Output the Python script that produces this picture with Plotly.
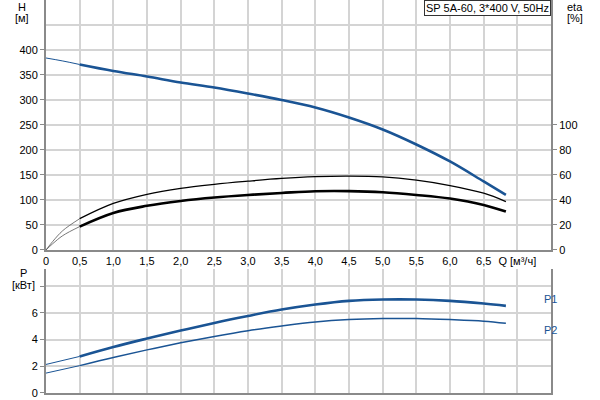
import plotly.graph_objects as go

# ---- data ----
Q = [0.5, 1.0, 1.5, 2.0, 2.5, 3.0, 3.5, 4.0, 4.5, 5.0, 5.5, 6.0, 6.5, 6.83]
H = [371, 358, 347, 335, 325, 313, 300, 285, 265, 241, 211, 177, 137, 110]
Q_ext_H = [0, 0.25, 0.5]
H_ext = [384, 378, 371]

ETA1 = [25, 37.2, 44.5, 49.3, 52.5, 55, 57.2, 58.6, 59, 58.4, 55.8, 51.5, 45.4, 38.7]
ETA2 = [18.7, 29.6, 35.3, 39.2, 42, 44, 45.6, 47, 47.1, 46.2, 44, 41.1, 36, 30.7]
Q_ext_eta = [0, 0.1, 0.25, 0.5]
ETA1_ext = [0, 6.8, 15.5, 25]
ETA2_ext = [0, 5, 11.5, 18.7]

P1 = [2.74, 3.45, 4.08, 4.68, 5.25, 5.77, 6.25, 6.63, 6.9, 7.0, 7.0, 6.9, 6.7, 6.53]
P2 = [2.05, 2.66, 3.23, 3.76, 4.24, 4.67, 5.02, 5.32, 5.5, 5.58, 5.58, 5.5, 5.38, 5.22]
Q_ext_P = [0, 0.5]
P1_ext = [2.14, 2.74]
P2_ext = [1.49, 2.05]

x_ticks = [0, 0.5, 1.0, 1.5, 2.0, 2.5, 3.0, 3.5, 4.0, 4.5, 5.0, 5.5, 6.0, 6.5, 7.0]
x_ticktext = ["0", "0,5", "1,0", "1,5", "2,0", "2,5", "3,0", "3,5", "4,0", "4,5",
              "5,0", "5,5", "6,0", "6,5", "Q [м³/ч]"]
h_ticks = [0, 50, 100, 150, 200, 250, 300, 350, 400]
eta_ticks = [0, 20, 40, 60, 80, 100]
p_ticks = [0, 2, 4, 6, 8]
p_ticktext = ["0", "2", "4", "6", ""]

BLUE = "#1a5494"
GRID = "#d4d4d4"
AXIS = "#8a8a8a"
FONT = "Liberation Sans, Arial, sans-serif"

fig = go.Figure()

def line(x, y, color, width, xa="x", ya="y"):
    fig.add_trace(go.Scatter(x=x, y=y, mode="lines", xaxis=xa, yaxis=ya,
                             line=dict(color=color, width=width, shape="spline", smoothing=1.0),
                             hoverinfo="skip", showlegend=False))

# top panel
line(Q_ext_eta, ETA1_ext, "#555555", 0.8, ya="y2")
line(Q_ext_eta, ETA2_ext, "#555555", 0.8, ya="y2")
line(Q, ETA1, "black", 1.3, ya="y2")
line(Q, ETA2, "black", 2.6, ya="y2")
line(Q_ext_H, H_ext, BLUE, 1.0)
line(Q, H, BLUE, 2.6)
# bottom panel
line(Q_ext_P, P1_ext, BLUE, 1.0, "x2", "y3")
line(Q_ext_P, P2_ext, BLUE, 1.0, "x2", "y3")
line(Q, P1, BLUE, 2.6, "x2", "y3")
line(Q, P2, BLUE, 1.5, "x2", "y3")

top_dom = [0.364, 1.0]
bot_dom = [0.0, 0.3155]

fig.update_layout(
    width=600, height=400,
    margin=dict(l=46, r=49, t=0, b=7, autoexpand=False),
    paper_bgcolor="white", plot_bgcolor="white",
    font=dict(family=FONT, size=11, color="black"),
    xaxis=dict(domain=[0, 1], range=[0, 7.5], anchor="y", automargin=False,
               tickvals=x_ticks, ticktext=x_ticktext, showgrid=True,
               gridcolor=GRID, gridwidth=2, zeroline=False,
               showline=True, linecolor=AXIS, linewidth=2, ticks="", ticklen=0),
    yaxis=dict(domain=top_dom, range=[0, 500], anchor="x", automargin=False,
               tickvals=h_ticks, showgrid=True, gridcolor=GRID, gridwidth=2,
               zeroline=False, showline=True, linecolor=AXIS, linewidth=2,
               ticks="outside", ticklen=4, tickcolor=AXIS,
               minor=dict(dtick=50, showgrid=True, gridcolor=GRID, gridwidth=2, ticks="")),
    yaxis2=dict(range=[0, 200], overlaying="y", side="right", anchor="x", automargin=False,
                tickvals=eta_ticks, showgrid=False, zeroline=False,
                showline=True, linecolor=AXIS, linewidth=2,
                ticks="outside", ticklen=4, tickcolor=AXIS),
    xaxis2=dict(domain=[0, 1], range=[0, 7.5], anchor="y3", automargin=False,
                tickvals=x_ticks, showticklabels=False, showgrid=True,
                gridcolor=GRID, gridwidth=2, zeroline=False,
                showline=True, linecolor=AXIS, linewidth=2, ticks=""),
    yaxis3=dict(domain=bot_dom, range=[0, 9.29], anchor="x2", automargin=False,
                tickvals=p_ticks, ticktext=p_ticktext, showgrid=True,
                gridcolor=GRID, gridwidth=2, zeroline=False,
                showline=True, mirror=True, linecolor=AXIS, linewidth=2,
                ticks="outside", ticklen=4, tickcolor=AXIS),
)

def text(x, y, s, color="black", xanchor="center", size=11):
    fig.add_annotation(x=x, y=y, xref="paper", yref="paper", text=s, showarrow=False,
                       xanchor=xanchor, yanchor="middle",
                       font=dict(family=FONT, size=size, color=color))

PW = 600 - 46 - 49
PH = 400 - 0 - 7
def px(xp):
    return (xp - 46) / PW
def py(yp):
    return (400 - 7 - yp) / PH

text(px(22), py(7), "H")
text(px(22), py(18), "[м]")
text(px(575), py(7), "eta")
text(px(575), py(18), "[%]")
text(px(23), py(273), "P")
text(px(23), py(285), "[кВт]")
text(px(542), py(299), "P1", color=BLUE, xanchor="left")
text(px(542), py(330), "P2", color=BLUE, xanchor="left")

fig.add_annotation(x=1.0, y=1.0, xref="paper", yref="paper",
                   text="SP 5A-60, 3*400 V, 50Hz", showarrow=False,
                   xanchor="right", yanchor="top",
                   font=dict(family=FONT, size=11, color="black"),
                   bordercolor="#333333", borderwidth=1, borderpad=1,
                   bgcolor="white")

fig.write_html("out.html", config={"displayModeBar": False},
               post_script="document.body.style.margin='0';")
